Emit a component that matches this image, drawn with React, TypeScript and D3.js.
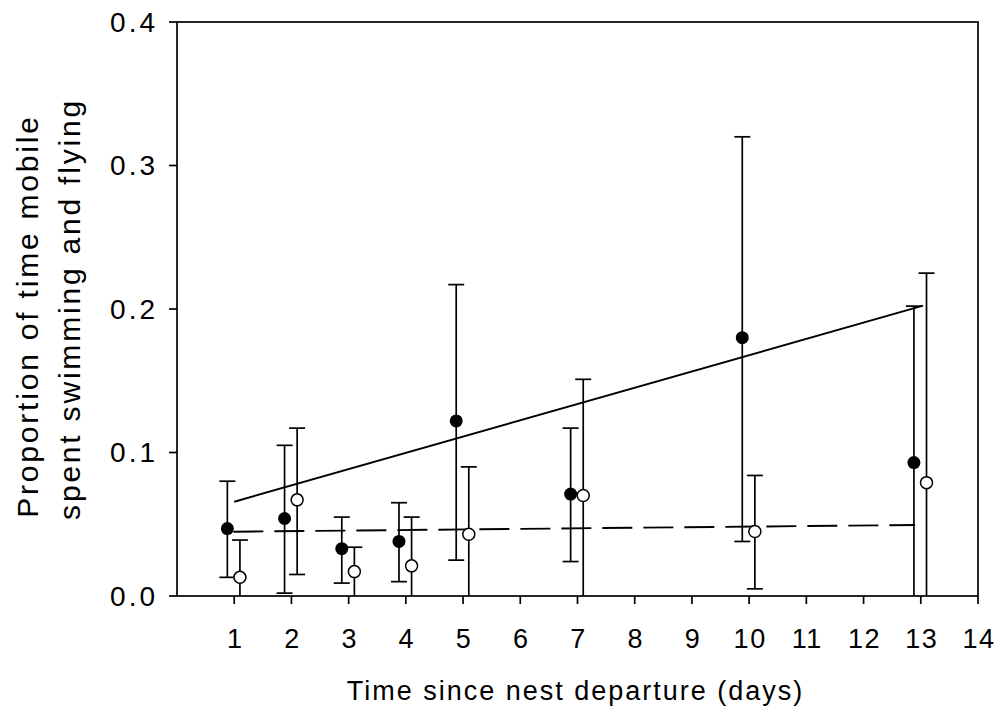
import React from "react";
import * as d3 from "d3";

const days = [1, 2, 3, 4, 5, 7, 10, 13];
const filledMean = [0.047, 0.054, 0.033, 0.038, 0.122, 0.071, 0.18, 0.093];
const filledLow = [0.013, 0.002, 0.009, 0.01, 0.025, 0.024, 0.038, 0.0];
const filledHigh = [0.08, 0.105, 0.055, 0.065, 0.217, 0.117, 0.32, 0.202];
const openMean = [0.013, 0.067, 0.017, 0.021, 0.043, 0.07, 0.045, 0.079];
const openLow = [0.0, 0.015, 0.0, 0.0, 0.0, 0.0, 0.005, 0.0];
const openHigh = [0.039, 0.117, 0.034, 0.055, 0.09, 0.151, 0.084, 0.225];

const solidFitX = [1.0, 13.04];
const solidFitY = [0.0657, 0.2023];
const dashedFitX = [0.985, 12.9];
const dashedFitY = [0.0448, 0.0495];

const xTicks = [1, 2, 3, 4, 5, 6, 7, 8, 9, 10, 11, 12, 13, 14];
const yTicks = [0, 0.1, 0.2, 0.3, 0.4];

const xTitle = "Time since nest departure (days)";
const yTitle1 = "Proportion of time mobile";
const yTitle2 = "spent swimming and flying";

const FONT = "'Liberation Sans', Arial, Helvetica, sans-serif";

export default function App() {
  const W = 1001;
  const H = 713;
  const x = d3.scaleLinear().domain([0, 14]).range([177, 978]);
  const y = d3.scaleLinear().domain([0, 0.4]).range([596, 22]);
  const line = d3
    .line<[number, number]>()
    .x((d) => x(d[0]))
    .y((d) => y(d[1]));

  const filledOff = -0.12;
  const openOff = 0.1;
  const cap = 8;
  const sw = 1.7;

  const solidPts: [number, number][] = solidFitX.map((v, i) => [v, solidFitY[i]]);
  const dashedPts: [number, number][] = dashedFitX.map((v, i) => [v, dashedFitY[i]]);

  const errBar = (cx: number, lo: number, hi: number, key: string) => (
    <g key={key} stroke="#000" strokeWidth={sw}>
      <line x1={cx} x2={cx} y1={y(lo)} y2={y(hi)} />
      <line x1={cx - cap} x2={cx + cap} y1={y(hi)} y2={y(hi)} />
      {lo > 0 ? <line x1={cx - cap} x2={cx + cap} y1={y(lo)} y2={y(lo)} /> : null}
    </g>
  );

  return (
    <svg
      width={W}
      height={H}
      style={{ position: "absolute", left: 0, top: 0, background: "#fff" }}
      fontFamily={FONT}
    >
      <rect x={0} y={0} width={W} height={H} fill="#fff" />
      {/* frame */}
      <rect
        x={x(0)}
        y={y(0.4)}
        width={x(14) - x(0)}
        height={y(0) - y(0.4)}
        fill="none"
        stroke="#000"
        strokeWidth={sw}
      />
      {/* x ticks */}
      {xTicks.map((t) => (
        <g key={"xt" + t}>
          <line x1={x(t)} x2={x(t)} y1={y(0)} y2={y(0) + 8} stroke="#000" strokeWidth={sw} />
          <text
            x={x(t) + 1}
            y={648}
            textAnchor="middle"
            fontSize={27}
            letterSpacing={1.5}
            fill="#000"
          >
            {t}
          </text>
        </g>
      ))}
      {/* y ticks */}
      {yTicks.map((t) => (
        <g key={"yt" + t}>
          <line x1={x(0) - 8} x2={x(0)} y1={y(t)} y2={y(t)} stroke="#000" strokeWidth={sw} />
          <text
            x={158}
            y={y(t) + 9.5}
            textAnchor="end"
            fontSize={28}
            letterSpacing={3}
            fill="#000"
          >
            {d3.format(".1f")(t)}
          </text>
        </g>
      ))}
      {/* titles */}
      <text
        x={575.5}
        y={700}
        textAnchor="middle"
        fontSize={27}
        letterSpacing={2}
        fill="#000"
      >
        {xTitle}
      </text>
      <text
        transform={`translate(38,${316}) rotate(-90)`}
        textAnchor="middle"
        fontSize={30}
        letterSpacing={2.8}
        fill="#000"
      >
        {yTitle1}
      </text>
      <text
        transform={`translate(80,${309}) rotate(-90)`}
        textAnchor="middle"
        fontSize={30}
        letterSpacing={2.8}
        fill="#000"
      >
        {yTitle2}
      </text>
      {/* error bars */}
      {days.map((d, i) => errBar(x(d + filledOff), filledLow[i], filledHigh[i], "fe" + i))}
      {days.map((d, i) => errBar(x(d + openOff), openLow[i], openHigh[i], "oe" + i))}
      {/* fit lines */}
      <path d={line(solidPts) || ""} fill="none" stroke="#000" strokeWidth={1.9} />
      <path
        d={line(dashedPts) || ""}
        fill="none"
        stroke="#000"
        strokeWidth={1.9}
        strokeDasharray="30,11"
      />
      {/* points */}
      {days.map((d, i) => (
        <circle key={"fp" + i} cx={x(d + filledOff)} cy={y(filledMean[i])} r={6.5} fill="#000" />
      ))}
      {days.map((d, i) => (
        <circle
          key={"op" + i}
          cx={x(d + openOff)}
          cy={y(openMean[i])}
          r={6}
          fill="#fff"
          stroke="#000"
          strokeWidth={1.5}
        />
      ))}
    </svg>
  );
}
